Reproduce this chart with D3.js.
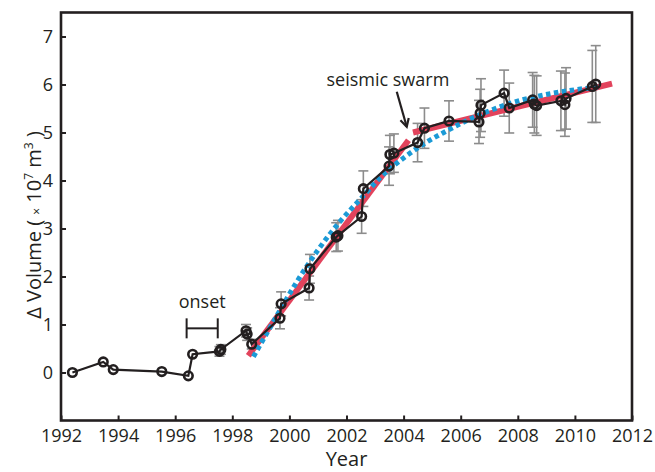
<!DOCTYPE html>
<html>
<head>
<meta charset="utf-8">
<script src="https://cdn.jsdelivr.net/npm/d3@7"></script>
<style>
body { margin: 0; background: #fff; }
text { font-family: "Open Sans", "Noto Sans", sans-serif; fill: #231f20; }
</style>
</head>
<body>
<svg id="chart" width="655" height="472"></svg>
<script>
// measured volume change (x 10^7 m^3) with error half-widths
var years = [1992.40, 1993.48, 1993.83, 1995.53, 1996.46, 1996.61, 1997.55, 1997.60, 1998.48, 1998.52, 1998.68,
  1999.67, 1999.71, 2000.69, 2000.72, 2001.64, 2001.70, 2002.53, 2002.59, 2003.49, 2003.52, 2003.66,
  2004.49, 2004.73, 2005.59, 2006.64, 2006.68, 2006.71, 2007.52, 2007.70, 2008.52, 2008.58, 2008.66,
  2009.51, 2009.65, 2009.69, 2010.61, 2010.73]
var volumes = [0.00, 0.22, 0.06, 0.02, -0.07, 0.38, 0.44, 0.48, 0.87, 0.80, 0.59,
  1.13, 1.43, 1.76, 2.16, 2.82, 2.85, 3.25, 3.83, 4.30, 4.54, 4.57,
  4.79, 5.09, 5.24, 5.22, 5.40, 5.57, 5.82, 5.51, 5.68, 5.59, 5.56,
  5.66, 5.58, 5.71, 5.96, 6.01]
var errors = [0, 0, 0, 0, 0, 0, 0.10, 0.10, 0.13, 0.13, 0.10,
  0.22, 0.25, 0.25, 0.30, 0.30, 0.32, 0.35, 0.37, 0.40, 0.40, 0.40,
  0.40, 0.42, 0.42, 0.45, 0.50, 0.55, 0.48, 0.52, 0.57, 0.60, 0.62,
  0.62, 0.66, 0.64, 0.75, 0.80]

// piecewise linear fit (red), before and after the swarm
var fitPre = [[1998.56, 0.35], [2004.17, 4.84]]
var fitPost = [[2004.33, 5.00], [2011.30, 6.02]]

// smooth model curve (blue dotted)
var modelYears = [1998.74, 1999.50, 2000.25, 2001.00, 2001.75, 2002.50, 2003.25, 2004.00, 2004.75,
  2005.50, 2006.25, 2007.00, 2007.75, 2008.50, 2009.25, 2010.00, 2010.85]
var modelVolumes = [0.33, 1.12, 1.88, 2.55, 3.13, 3.62, 4.10, 4.47, 4.78,
  5.03, 5.26, 5.45, 5.61, 5.73, 5.82, 5.89, 5.95]

var xTicks = [1992, 1994, 1996, 1998, 2000, 2002, 2004, 2006, 2008, 2010, 2012]
var yTicks = [0, 1, 2, 3, 4, 5, 6, 7]

var onsetRange = [1996.40, 1997.49]
var onsetLevel = 0.92
var swarmText = [2003.45, 5.97]
var swarmArrow = [[2003.76, 5.85], [2004.11, 5.12]]

var svg = d3.select("#chart")
var x = d3.scaleLinear().domain([1992, 2012]).range([61, 632])
var y = d3.scaleLinear().domain([-1, 7.5]).range([420.5, 12.5])

var pts = years.map(function(d, i) { return {t: d, v: volumes[i], e: errors[i]} })

// error bars
var eb = svg.append("g").attr("stroke", "#8c8c8c").attr("stroke-width", 1.6)
pts.filter(function(d) { return d.e > 0 }).forEach(function(d) {
  var cx = x(d.t)
  eb.append("line").attr("x1", cx).attr("x2", cx).attr("y1", y(d.v - d.e)).attr("y2", y(d.v + d.e))
  eb.append("line").attr("x1", cx - 5).attr("x2", cx + 5).attr("y1", y(d.v - d.e)).attr("y2", y(d.v - d.e))
  eb.append("line").attr("x1", cx - 5).attr("x2", cx + 5).attr("y1", y(d.v + d.e)).attr("y2", y(d.v + d.e))
})

var line = d3.line().x(function(d) { return x(d[0]) }).y(function(d) { return y(d[1]) })

svg.append("path").attr("d", line(fitPre)).attr("fill", "none").attr("stroke", "#e2435c").attr("stroke-width", 6)
svg.append("path").attr("d", line(fitPost)).attr("fill", "none").attr("stroke", "#e2435c").attr("stroke-width", 6)

var model = modelYears.map(function(d, i) { return [d, modelVolumes[i]] })
svg.append("path").attr("d", line.curve(d3.curveMonotoneX)(model)).attr("fill", "none")
  .attr("stroke", "#1b9ad6").attr("stroke-width", 5).attr("stroke-dasharray", "4.5,3.5")

var dataLine = d3.line().x(function(d) { return x(d.t) }).y(function(d) { return y(d.v) })
svg.append("path").attr("d", dataLine(pts)).attr("fill", "none").attr("stroke", "#231f20").attr("stroke-width", 2.2)

svg.selectAll("circle.pt").data(pts).enter().append("circle").attr("class", "pt")
  .attr("cx", function(d) { return x(d.t) }).attr("cy", function(d) { return y(d.v) })
  .attr("r", 4.3).attr("fill", "none").attr("stroke", "#231f20").attr("stroke-width", 2.6)

// axes
var xAxis = svg.append("g").attr("transform", "translate(0,420.5)")
  .call(d3.axisBottom(x).tickValues(xTicks).tickFormat(d3.format("d")).tickSize(-5).tickPadding(9))
var yAxis = svg.append("g").attr("transform", "translate(61,0)")
  .call(d3.axisLeft(y).tickValues(yTicks).tickSize(-5).tickPadding(8))
;[xAxis, yAxis].forEach(function(a) {
  a.select(".domain").remove()
  a.selectAll(".tick line").attr("stroke", "#231f20").attr("stroke-width", 2)
  a.selectAll(".tick text").attr("font-size", 18).attr("font-family", null).style("fill", "#231f20")
})

svg.append("rect").attr("x", x(1992)).attr("y", y(7.5)).attr("width", x(2012) - x(1992)).attr("height", y(-1) - y(7.5))
  .attr("fill", "none").attr("stroke", "#231f20").attr("stroke-width", 2.6)

svg.append("text").text("Year").attr("x", (x(1992) + x(2012)) / 2).attr("y", 466)
  .attr("text-anchor", "middle").attr("font-size", 20)

var yl = svg.append("text").attr("transform", "translate(41,225) rotate(-90)")
  .attr("text-anchor", "middle").attr("font-size", 20)
yl.append("tspan").text("\u0394 Volume ( ")
yl.append("tspan").text("\u00d7").attr("font-size", 12)
yl.append("tspan").text(" 10")
yl.append("tspan").text("7").attr("font-size", 12).attr("dy", -8)
yl.append("tspan").text(" m").attr("dy", 8)
yl.append("tspan").text("3").attr("font-size", 12).attr("dy", -8)
yl.append("tspan").text(" )").attr("dy", 8)

// onset bracket
var ob = svg.append("g").attr("stroke", "#231f20").attr("stroke-width", 2)
ob.append("line").attr("x1", x(onsetRange[0])).attr("x2", x(onsetRange[1])).attr("y1", y(onsetLevel)).attr("y2", y(onsetLevel))
onsetRange.forEach(function(t) {
  ob.append("line").attr("x1", x(t)).attr("x2", x(t)).attr("y1", y(onsetLevel) - 10).attr("y2", y(onsetLevel) + 10)
})
svg.append("text").text("onset").attr("x", x((onsetRange[0] + onsetRange[1]) / 2)).attr("y", y(onsetLevel) - 20)
  .attr("text-anchor", "middle").attr("font-size", 18)

// seismic swarm annotation
svg.append("text").text("seismic swarm").attr("x", x(swarmText[0])).attr("y", y(swarmText[1]))
  .attr("text-anchor", "middle").attr("font-size", 18)
var a0 = [x(swarmArrow[0][0]), y(swarmArrow[0][1])], a1 = [x(swarmArrow[1][0]), y(swarmArrow[1][1])]
var ang = Math.atan2(a1[1] - a0[1], a1[0] - a0[0])
var ag = svg.append("g").attr("stroke", "#231f20").attr("stroke-width", 2.2).attr("fill", "none")
ag.append("line").attr("x1", a0[0]).attr("y1", a0[1]).attr("x2", a1[0]).attr("y2", a1[1])
ag.append("path").attr("d", "M" + (a1[0] - 9 * Math.cos(ang - 0.5)) + "," + (a1[1] - 9 * Math.sin(ang - 0.5)) +
  "L" + a1[0] + "," + a1[1] + "L" + (a1[0] - 9 * Math.cos(ang + 0.5)) + "," + (a1[1] - 9 * Math.sin(ang + 0.5)))
</script>
</body>
</html>
